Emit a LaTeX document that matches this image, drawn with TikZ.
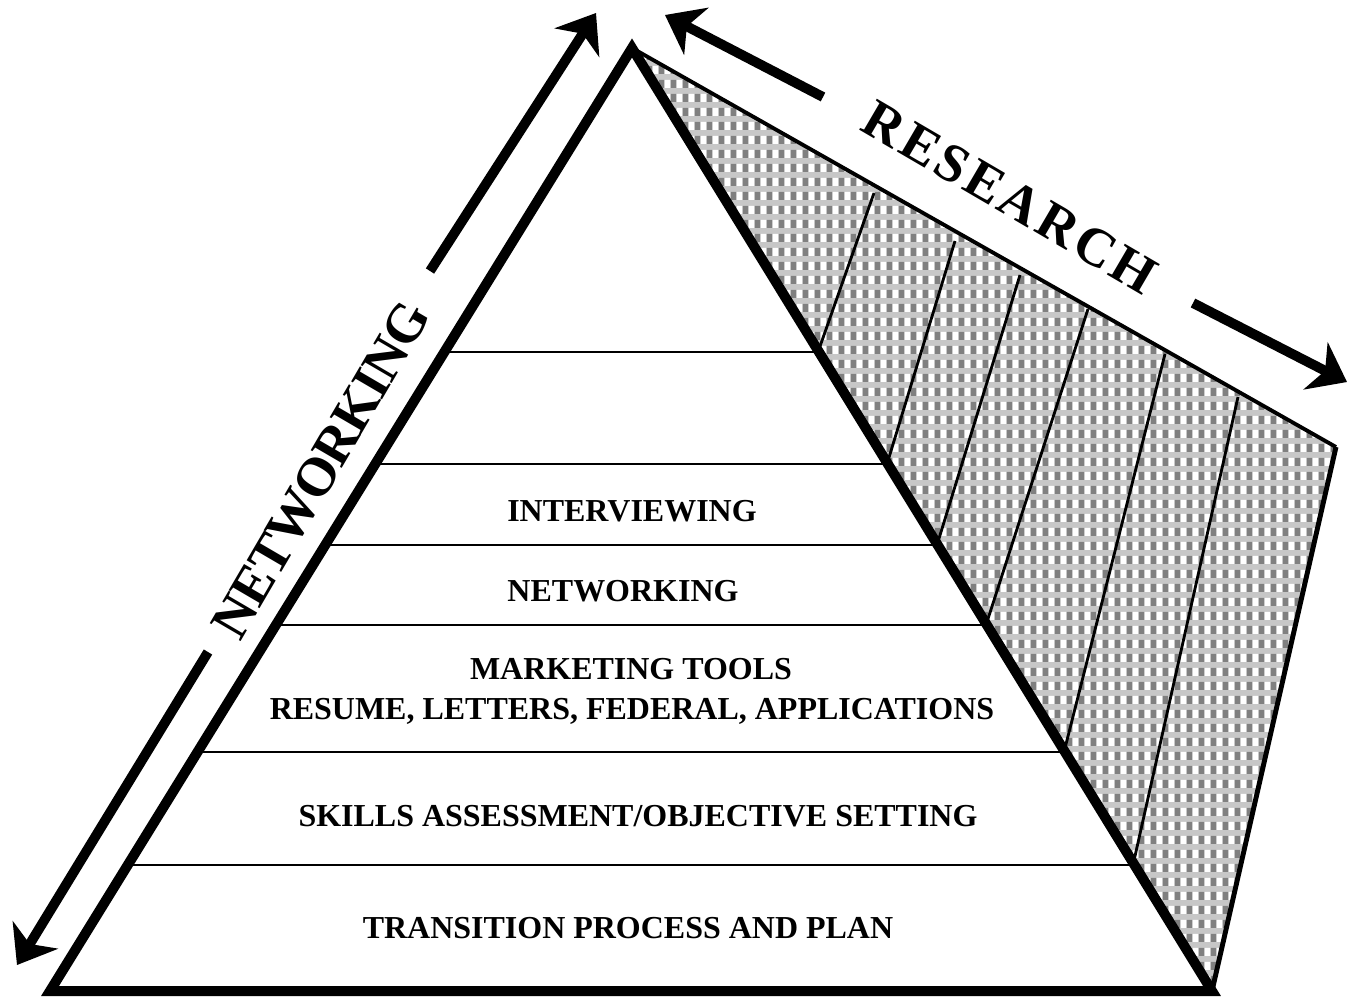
\documentclass[tikz,border=0pt]{standalone}
\usepackage{fontspec}
\setmainfont{Liberation Serif}
\usepackage{tikz}
\usetikzlibrary{arrows.meta,calc,patterns}

\pgfdeclarepatterninherentlycolored{researchchecks}
{\pgfpointorigin}{\pgfqpoint{3.41pt}{4.1pt}}{\pgfqpoint{3.41pt}{4.1pt}}
{
\pgfsetfillcolor{black!22}
\pgfpathrectangle{\pgfpointorigin}{\pgfqpoint{3.41pt}{4.1pt}}
\pgfusepath{fill}
\pgfsetfillcolor{black!50}
\pgfpathrectangle{\pgfpointorigin}{\pgfqpoint{1.4pt}{2.4pt}}
\pgfusepath{fill}
\pgfsetfillcolor{white}
\pgfpathrectangle{\pgfqpoint{1.7pt}{0pt}}{\pgfqpoint{1.4pt}{2.4pt}}
\pgfusepath{fill}
}

\begin{document}
\begin{tikzpicture}
[x=0.1mm, y=-0.1mm, line join=miter,
tierline/.style={line width=0.6pt},
rayline/.style={line width=0.8pt},
bigarrow/.style={line width=2.8pt, -{Stealth[length=10pt,width=15pt,inset=3pt]}},
tiertext/.style={anchor=base, inner sep=0pt, font=\fontsize{9.1}{11}\selectfont\bfseries},
sidetext/.style={inner sep=0pt, font=\fontsize{15.5}{19}\selectfont\bfseries}]
\useasboundingbox (0,0) rectangle (1349,997);

\coordinate (apex) at (632,48);
\coordinate (bl) at (50,991);
\coordinate (br) at (1212,991);
\coordinate (rc) at (1336,447);

\coordinate (a1) at (445,352);
\coordinate (a2) at (376,464);
\coordinate (a3) at (326,545);
\coordinate (a4) at (277,625);
\coordinate (a5) at (199,752);
\coordinate (a6) at (130,865);

\coordinate (b1) at (818,352);
\coordinate (b2) at (887,464);
\coordinate (b3) at (937,545);
\coordinate (b4) at (986,625);
\coordinate (b5) at (1064,752);
\coordinate (b6) at (1133,865);

\coordinate (c1) at (874,193);
\coordinate (c2) at (955,241);
\coordinate (c3) at (1020,275);
\coordinate (c4) at (1088,309);
\coordinate (c5) at (1165,354);
\coordinate (c6) at (1238,397);


\fill[pattern=researchchecks] (apex) -- (rc) -- (br) -- cycle;

\draw[rayline] (b1) -- (c1);
\draw[rayline] (b2) -- (c2);
\draw[rayline] (b3) -- (c3);
\draw[rayline] (b4) -- (c4);
\draw[rayline] (b5) -- (c5);
\draw[rayline] (b6) -- (c6);

\draw[line width=1.1pt] (apex) -- (rc);
\draw[line width=1.4pt] (rc) -- (br);

\draw[tierline] (a1) -- (b1);
\draw[tierline] (a2) -- (b2);
\draw[tierline] (a3) -- (b3);
\draw[tierline] (a4) -- (b4);
\draw[tierline] (a5) -- (b5);
\draw[tierline] (a6) -- (b6);

\draw[line width=2.85pt] (apex) -- (bl) -- (br) -- cycle;


\node (t1) at (628,938)[tiertext] {TRANSITION PROCESS AND PLAN};
\node (t2) at (638,826)[tiertext] {SKILLS ASSESSMENT/OBJECTIVE SETTING};
\node (t3) at (632,719)[tiertext] {RESUME, LETTERS, FEDERAL, APPLICATIONS};
\node (t4) at (631,679)[tiertext] {MARKETING TOOLS};
\node (t5) at (623,601)[tiertext] {NETWORKING};
\node (t6) at (632,521)[tiertext] {INTERVIEWING};


\coordinate (nu0) at (430,271);
\coordinate (nu1) at (596,13);
\coordinate (nd0) at (208,652);
\coordinate (nd1) at (17,965);
\coordinate (ru0) at (823,97);
\coordinate (ru1) at (665,15);
\coordinate (rd0) at (1193,303);
\coordinate (rd1) at (1347,382);

\draw (nu0) edge[bigarrow] (nu1);
\draw (nd0) edge[bigarrow] (nd1);
\draw (ru0) edge[bigarrow] (ru1);
\draw (rd0) edge[bigarrow] (rd1);

\node (net) at (321,470)[sidetext, rotate=59.7] {\addfontfeature{LetterSpace=-3}NETWORKING};
\node (res) at (1010,197)[sidetext, rotate=-30.3] {\addfontfeature{LetterSpace=7}RESEARCH};
\end{tikzpicture}
\end{document}
